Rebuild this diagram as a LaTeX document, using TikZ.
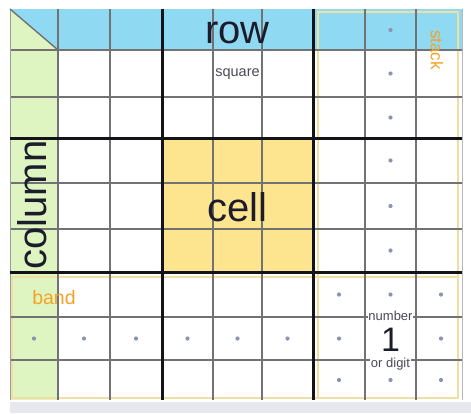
\documentclass[tikz,border=0pt]{standalone}
\usepackage{fontspec}
\setmainfont{Liberation Sans}
\definecolor{rowblue}{HTML}{8FDAF2}
\definecolor{colgreen}{HTML}{DEF5C2}
\definecolor{cellyellow}{HTML}{FCE58E}
\definecolor{thingray}{HTML}{727272}
\definecolor{thickline}{HTML}{141418}
\definecolor{dotblue}{HTML}{8C92B4}
\definecolor{outlineyellow}{HTML}{EEE0A0}
\definecolor{labelorange}{HTML}{F4A224}
\definecolor{shadowgray}{HTML}{E6E8EE}
\definecolor{textdark}{HTML}{1C1C2A}
\tikzset{
  thinline/.style={draw=thingray, line width=1.4pt},
  thickrule/.style={draw=thickline, line width=3pt},
  outlinebox/.style={draw=outlineyellow, line width=1.3pt},
  griddot/.style={fill=dotblue, circle, inner sep=0pt, minimum size=4.2pt},
  bigtext/.style={text=textdark, font=\fontsize{40}{40}\selectfont, inner sep=0pt},
  smalltext/.style={text=textdark!80, font=\fontsize{13}{13}\selectfont, inner sep=0.6pt},
  orangetext/.style={text=labelorange, inner sep=0pt}
}
\begin{document}
\begin{tikzpicture}[x=1pt,y=-1pt]
\useasboundingbox (0,0) rectangle (471,413);
\fill[white] (0,0) rectangle (471,413);
% shadow strip
\fill[shadowgray] (10,402) rectangle (471,413);
% fills
\fill[rowblue] (58,9) rectangle (462,50);
\fill[rowblue] (10,9) -- (58,9) -- (58,50) -- cycle;
\fill[colgreen] (10,9) -- (10,50) -- (58,50) -- cycle;
\fill[colgreen] (10,50) rectangle (58,400);
\fill[cellyellow] (162,138) rectangle (313,272);
% outlines of stack and band
\draw[outlinebox] (318,12) rectangle (458,398);
\draw[outlinebox] (12,277) rectangle (458,398);
% thin grid lines
\foreach \gx in {58,110,213,262,365,416}
  \draw[thinline] (\gx,9) -- (\gx,400);
\foreach \gy in {50,97,183,229,317,360}
  \draw[thinline] (10,\gy) -- (462,\gy);
\draw[draw=thingray!70, line width=1pt] (10,9) -- (10,400);
\draw[draw=thingray!50, line width=0.8pt] (462,9) -- (462,400);
\draw[thinline] (10,9) -- (58,50);
% thick box lines
\foreach \gx in {162,313}
  \draw[thickrule] (\gx,9) -- (\gx,400);
\foreach \gy in {138,272}
  \draw[thickrule] (10,\gy) -- (462,\gy);
% dots
\foreach \dy in {30,73.5,117.5,160.5,206,250.5}
  \node[griddot] at (390.5,\dy) {};
\foreach \dx in {34,84,136,187.5,237.5,287.5,339,441}
  \node[griddot] at (\dx,338.5) {};
\foreach \dx in {339,390.5,441}{
  \node[griddot] at (\dx,294.5) {};
  \node[griddot] at (\dx,380) {};
}
% labels
\node[bigtext] (rowlabel) at (237.5,32.5) {row};
\node[smalltext, font=\fontsize{14.5}{14.5}\selectfont] (squarelabel) at (237.5,74) {square};
\node[bigtext, rotate=90] (columnlabel) at (32,205) {column};
\node[bigtext] (celllabel) at (237.5,207) {cell};
\node[orangetext, font=\fontsize{17}{17}\selectfont, rotate=-90] (stacklabel) at (437,50) {stack};
\node[orangetext, font=\fontsize{19.5}{19.5}\selectfont] (bandlabel) at (54,298) {band};
\node[smalltext, fill=white] (numberlabel) at (390.5,316) {number};
\node[bigtext, font=\fontsize{34}{34}\selectfont] (digitone) at (390.5,339.5) {1};
\node[smalltext, fill=white] (digitlabel) at (390.5,364) {or digit};
\end{tikzpicture}
\end{document}
